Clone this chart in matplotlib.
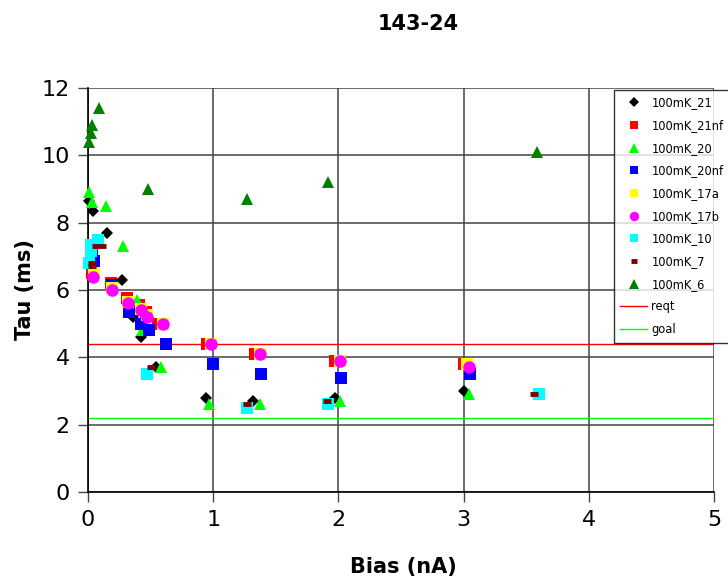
import matplotlib
matplotlib.use("Agg")
import matplotlib.pyplot as plt

title = "143-24"
xlabel = "Bias (nA)"
ylabel = "Tau (ms)"

x_21 = [0.01, 0.04, 0.15, 0.27, 0.36, 0.42, 0.54, 0.94, 1.32, 1.97, 3.00]
y_21 = [8.65, 8.35, 7.70, 6.30, 5.20, 4.60, 3.70, 2.80, 2.70, 2.80, 3.00]

x_21nf = [0.03, 0.18, 0.31, 0.41, 0.46, 0.56, 0.95, 1.33, 1.97, 3.00]
y_21nf = [6.50, 6.20, 5.75, 5.55, 5.35, 5.00, 4.40, 4.10, 3.90, 3.80]

x_20 = [0.01, 0.03, 0.14, 0.28, 0.39, 0.43, 0.58, 0.97, 1.37, 2.01, 3.04]
y_20 = [8.90, 8.60, 8.50, 7.30, 5.70, 4.80, 3.70, 2.60, 2.60, 2.70, 2.90]

x_20nf = [0.03, 0.05, 0.19, 0.33, 0.42, 0.49, 0.62, 1.00, 1.38, 2.02, 3.05]
y_20nf = [7.05, 6.85, 6.15, 5.35, 5.00, 4.80, 4.40, 3.80, 3.50, 3.40, 3.50]

x_17a = [0.05, 0.19, 0.32, 0.42, 0.47, 0.60, 0.98, 1.37, 2.01, 3.03]
y_17a = [6.50, 6.05, 5.65, 5.45, 5.25, 5.00, 4.40, 4.10, 3.90, 3.80]

x_17b = [0.04, 0.19, 0.32, 0.42, 0.47, 0.60, 0.98, 1.37, 2.01, 3.04]
y_17b = [6.40, 6.00, 5.60, 5.40, 5.20, 5.00, 4.40, 4.10, 3.90, 3.70]

x_10 = [0.08, 0.02, 0.02, 0.01, 0.47, 1.27, 1.92, 3.60]
y_10 = [7.50, 7.35, 7.15, 6.80, 3.50, 2.50, 2.60, 2.90]

x_7 = [0.06, 0.11, 0.03, 0.03, 0.50, 1.27, 1.91, 3.56]
y_7 = [7.30, 7.30, 6.80, 6.70, 3.70, 2.60, 2.70, 2.90]

x_6 = [0.09, 0.03, 0.02, 0.01, 0.48, 1.27, 1.92, 3.59]
y_6 = [11.40, 10.90, 10.65, 10.40, 9.00, 8.70, 9.20, 10.10]

reqt = 4.4
goal = 2.2

series = [
    ("100mK_21", x_21, y_21, "D", "#000000", 6.5),
    ("100mK_21nf", x_21nf, y_21nf, "s", "#FF0000", 8),
    ("100mK_20", x_20, y_20, "^", "#00FF00", 9),
    ("100mK_20nf", x_20nf, y_20nf, "s", "#0000FF", 8),
    ("100mK_17a", x_17a, y_17a, "s", "#FFFF00", 8),
    ("100mK_17b", x_17b, y_17b, "o", "#FF00FF", 9),
    ("100mK_10", x_10, y_10, "s", "#00FFFF", 8),
    ("100mK_7", x_7, y_7, "_", "#800000", 6),
    ("100mK_6", x_6, y_6, "^", "#008000", 9),
]

fig = plt.figure(figsize=(7.28, 5.78), dpi=100)
ax = fig.add_axes([88/728, 1-492/578, (714-88)/728, (492-88)/578])

handles = []
for name, xs, ys, m, c, ms in series:
    if m == "_":
        h, = ax.plot(xs, ys, linestyle="none", marker=m, color=c, markersize=ms,
                     markeredgewidth=3.5, label=name, zorder=3, clip_on=False)
    else:
        h, = ax.plot(xs, ys, linestyle="none", marker=m, color=c, markersize=ms,
                     markeredgewidth=0, label=name, zorder=3, clip_on=False)
    handles.append(h)

hr = ax.axhline(reqt, color="#FF0000", lw=1, label="reqt", zorder=2)
hg = ax.axhline(goal, color="#00FF00", lw=1, label="goal", zorder=2)
handles += [hr, hg]

ax.set_xlim(0, 5)
ax.set_ylim(0, 12)
ax.set_xticks(range(0, 6))
ax.set_yticks(range(0, 13, 2))
ax.grid(True, color="#444444", lw=1.1, zorder=0)
ax.set_axisbelow(True)
for s in ["top", "right"]:
    ax.spines[s].set_visible(False)
for s in ["left", "bottom"]:
    ax.spines[s].set_color("black")
    ax.spines[s].set_linewidth(1.2)
ax.tick_params(axis="both", labelsize=16, length=7, width=1, color="#444444", pad=6)

fig.text(418/728, 1-24/578, title, ha="center", va="center", fontsize=15,
         fontweight="bold")
fig.text(403/728, 1-567/578, xlabel, ha="center", va="center", fontsize=15, fontweight="bold")
fig.text(25/728, 1-290/578, ylabel, ha="center", va="center", fontsize=15, fontweight="bold", rotation=90)

leg = fig.legend(handles=handles, loc="upper left", bbox_to_anchor=(614/728, 1-90/578),
                 prop={"size": 8.3}, frameon=True, fancybox=False,
                 edgecolor="black", borderpad=0.55, labelspacing=0.84, handlelength=2.3,
                 handletextpad=0.4, borderaxespad=0, markerscale=0.75)
leg.get_frame().set_linewidth(1)
leg.get_frame().set_facecolor("white")
leg.set_zorder(5)

fig.savefig("out.png", dpi=100)
